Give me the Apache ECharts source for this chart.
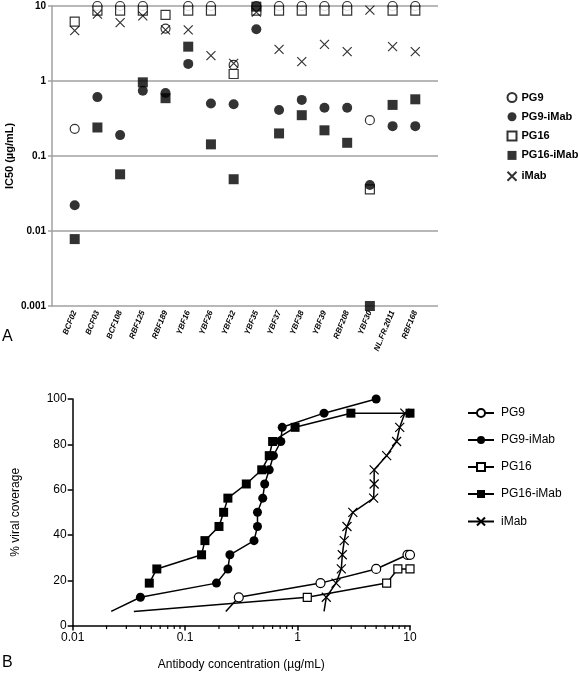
<!DOCTYPE html>
<html><head><meta charset="utf-8">
<script src="https://cdn.jsdelivr.net/npm/echarts@6/dist/echarts.min.js"></script>
<style>html,body{margin:0;padding:0;background:#fff}#c{width:578px;height:673px}</style>
</head><body><div id="c"></div>
<script>
// ---------- Panel A data ----------
var viruses = ['BCF02','BCF03','BCF108','RBF125','RBF189','YBF16','YBF26','YBF32','YBF35','YBF37','YBF38','YBF39','RBF208','YBF30','NL.FR.2011','RBF168'];
var icPG9      = [0.23, 10, 10, 10, 5.0, 10, 10, 1.64, 10, 10, 10, 10, 10, 0.30, 10, 10];
var icPG16     = [6.2, 8.7, 8.7, 8.7, 7.6, 8.7, 8.7, 1.24, 8.7, 8.7, 8.7, 8.7, 8.7, 0.036, 8.7, 8.7];
var icPG9iMab  = [0.022, 0.61, 0.19, 0.74, 0.69, 1.69, 0.50, 0.49, 4.9, 0.41, 0.56, 0.44, 0.44, 0.041, 0.25, 0.25];
var icPG16iMab = [0.0078, 0.24, 0.057, 0.96, 0.59, 2.87, 0.143, 0.049, 9.8, 0.20, 0.35, 0.22, 0.15, 0.001, 0.48, 0.57];
var iciMab     = [4.7, 7.8, 6.0, 7.4, 4.8, 4.8, 2.18, 1.72, 8.3, 2.64, 1.81, 3.08, 2.46, 8.8, 2.87, 2.46];

// ---------- Panel B data ----------
var concPG9 = [0.23, 0.30, 1.6, 5.0, 9.5, 10];
var covPG9  = [6.25, 12.5, 18.75, 25, 31.25, 31.25];
var concPG9iMab = [0.022, 0.040, 0.19, 0.24, 0.25, 0.41, 0.44, 0.44, 0.49, 0.51, 0.56, 0.61, 0.71, 0.73, 1.72, 5.0];
var covPG9iMab  = [6.25, 12.5, 18.75, 25, 31.25, 37.5, 43.75, 50, 56.25, 62.5, 68.75, 75, 81.25, 87.5, 93.75, 100];
var concPG16 = [0.035, 1.22, 6.2, 7.8, 10];
var covPG16  = [6.25, 12.5, 18.75, 25, 25];
var concPG16iMab = [0.048, 0.056, 0.14, 0.15, 0.20, 0.22, 0.24, 0.35, 0.48, 0.56, 0.60, 0.95, 2.98, 10];
var covPG16iMab  = [18.75, 25, 31.25, 37.5, 43.75, 50, 56.25, 62.5, 68.75, 75, 81.25, 87.5, 93.75, 93.75];
var conciMab = [1.72, 1.8, 2.2, 2.45, 2.5, 2.6, 2.75, 3.1, 4.75, 4.8, 4.8, 6.2, 7.6, 8.1, 9.0];
var coviMab  = [6.25, 12.5, 18.75, 25, 31.25, 37.5, 43.75, 50, 56.25, 62.5, 68.75, 75, 81.25, 87.5, 93.75];
var minorTickValues = [0.02,0.03,0.04,0.05,0.06,0.07,0.08,0.09,0.2,0.3,0.4,0.5,0.6,0.7,0.8,0.9,2,3,4,5,6,7,8,9];

var FONT = "'Liberation Sans', Arial, sans-serif";
var XPATH = 'path://M0,0L10,10M10,0L0,10';
var catAxis = [''].concat(viruses).concat([' ']);

function topData(vals){ return viruses.map(function(v,i){ return [i + 1, vals[i]]; }); }
function botData(conc, cov, hideFirst){
  return conc.map(function(c,i){
    var d = {value:[c, cov[i]]};
    if (hideFirst && i === 0) d.symbol = 'none';
    return d;
  });
}
var openStyle = {color:'#fff', borderColor:'#000', borderWidth:1.2};
var fillStyle = {color:'#000', borderColor:'#000', borderWidth:0};
var xStyle = {color:'none', borderColor:'#000', borderWidth:1.2};

var chart = echarts.init(document.getElementById('c'), null, {renderer:'canvas'});
var option = {
  animation:false,
  backgroundColor:'#fff',
  textStyle:{fontFamily:FONT},
  grid:[
    {left:52, width:386, top:6, height:300, containLabel:false, outerBoundsMode:'none'},
    {left:72.7, width:337.3, top:399, height:226.6, containLabel:false, outerBoundsMode:'none'}
  ],
  xAxis:[
    {gridIndex:0, type:'category', data:catAxis, boundaryGap:false,
     axisLine:{show:false}, axisTick:{show:false}, splitLine:{show:false},
     axisLabel:{rotate:68, interval:0, fontSize:8, fontWeight:'bold', fontStyle:'italic', color:'#000', margin:5, fontFamily:FONT}},
    {gridIndex:1, type:'log', logBase:10, min:0.01, max:10,
     axisLine:{lineStyle:{color:'#000', width:1.5}},
     axisTick:{length:5, lineStyle:{color:'#000', width:1.5}},
     splitLine:{show:false},
     axisLabel:{fontSize:12, color:'#000', margin:6, fontFamily:FONT},
     name:'Antibody concentration (µg/mL)', nameLocation:'middle', nameGap:33,
     nameTextStyle:{fontSize:12, color:'#000', fontFamily:FONT}}
  ],
  yAxis:[
    {gridIndex:0, type:'log', logBase:10, min:0.001, max:10,
     axisLine:{show:true, lineStyle:{color:'#a0a0a0', width:1.5}},
     axisTick:{show:true, length:4, lineStyle:{color:'#a0a0a0', width:1.5}},
     splitLine:{show:true, lineStyle:{color:'#a0a0a0', width:1.5}},
     axisLabel:{fontSize:10, fontWeight:'bold', color:'#000', margin:6, fontFamily:FONT},
     name:'IC50 (µg/mL)', nameLocation:'middle', nameGap:37, nameMoveOverlap:false,
     nameTextStyle:{fontSize:11, fontWeight:'bold', color:'#000', fontFamily:FONT}},
    {gridIndex:1, type:'value', min:0, max:100, interval:20,
     axisLine:{show:true, lineStyle:{color:'#000', width:1.5}},
     axisTick:{show:true, length:5, lineStyle:{color:'#000', width:1.5}},
     splitLine:{show:false},
     axisLabel:{fontSize:12, color:'#000', margin:6, fontFamily:FONT},
     name:'% viral coverage', nameLocation:'middle', nameGap:51,
     nameTextStyle:{fontSize:12, color:'#000', fontFamily:FONT}}
  ],
  legend:[
    {orient:'vertical', left:505, top:92, padding:0, itemGap:8.3, itemWidth:9, itemHeight:9,
     data:['PG9','PG9-iMab','PG16','PG16-iMab','iMab'],
     textStyle:{fontSize:11, fontWeight:'bold', color:'#000', fontFamily:FONT}},
    {orient:'vertical', left:462, top:402, itemGap:15, itemWidth:26, itemHeight:10,
     data:['B:PG9','B:PG9-iMab','B:PG16','B:PG16-iMab','B:iMab'],
     formatter:function(n){ return n.replace('B:',''); },
     textStyle:{fontSize:12, color:'#000', fontFamily:FONT, padding:[0,0,0,2]}}
  ],
  graphic:[
    {type:'text', left:2, top:329, style:{text:'A', fontSize:16, fill:'#000', fontFamily:FONT}},
    {type:'text', left:2, top:655, style:{text:'B', fontSize:16, fill:'#000', fontFamily:FONT}}
  ],
  series:[
    {name:'PG9', type:'scatter', xAxisIndex:0, yAxisIndex:0, symbol:'circle', symbolSize:9, itemStyle:openStyle, data:topData(icPG9)},
    {name:'PG16', type:'scatter', xAxisIndex:0, yAxisIndex:0, symbol:'rect', symbolSize:9, itemStyle:openStyle, data:topData(icPG16)},
    {name:'PG9-iMab', type:'scatter', xAxisIndex:0, yAxisIndex:0, symbol:'circle', symbolSize:10, itemStyle:fillStyle, data:topData(icPG9iMab)},
    {name:'PG16-iMab', type:'scatter', xAxisIndex:0, yAxisIndex:0, symbol:'rect', symbolSize:10, itemStyle:fillStyle, data:topData(icPG16iMab)},
    {name:'iMab', type:'scatter', xAxisIndex:0, yAxisIndex:0, symbol:XPATH, symbolSize:9, itemStyle:xStyle, data:topData(iciMab)},

    {name:'B:PG9', type:'line', xAxisIndex:1, yAxisIndex:1, symbol:'circle', symbolSize:9, showAllSymbol:true,
     lineStyle:{color:'#000', width:1.5}, itemStyle:openStyle, data:botData(concPG9, covPG9, true)},
    {name:'B:PG9-iMab', type:'line', xAxisIndex:1, yAxisIndex:1, symbol:'circle', symbolSize:9, showAllSymbol:true,
     lineStyle:{color:'#000', width:1.5}, itemStyle:fillStyle, data:botData(concPG9iMab, covPG9iMab, true)},
    {name:'B:PG16', type:'line', xAxisIndex:1, yAxisIndex:1, symbol:'rect', symbolSize:8, showAllSymbol:true,
     lineStyle:{color:'#000', width:1.5}, itemStyle:openStyle, data:botData(concPG16, covPG16, true)},
    {name:'B:PG16-iMab', type:'line', xAxisIndex:1, yAxisIndex:1, symbol:'rect', symbolSize:9, showAllSymbol:true,
     lineStyle:{color:'#000', width:1.5}, itemStyle:fillStyle, data:botData(concPG16iMab, covPG16iMab, false)},
    {name:'B:iMab', type:'line', xAxisIndex:1, yAxisIndex:1, symbol:XPATH, symbolSize:9, showAllSymbol:true,
     lineStyle:{color:'#000', width:1.5}, itemStyle:xStyle, data:botData(conciMab, coviMab, true)},

    {type:'custom', xAxisIndex:1, yAxisIndex:1, silent:true, clip:false,
     data:minorTickValues.map(function(v){ return [v, 0]; }),
     renderItem:function(params, api){
       var p = api.coord([api.value(0), 0]);
       return {type:'line', shape:{x1:p[0], y1:p[1], x2:p[0], y2:p[1]+3.5},
               style:{stroke:'#000', lineWidth:1.2}};
     }}
  ]
};
chart.setOption(option);
</script></body></html>
